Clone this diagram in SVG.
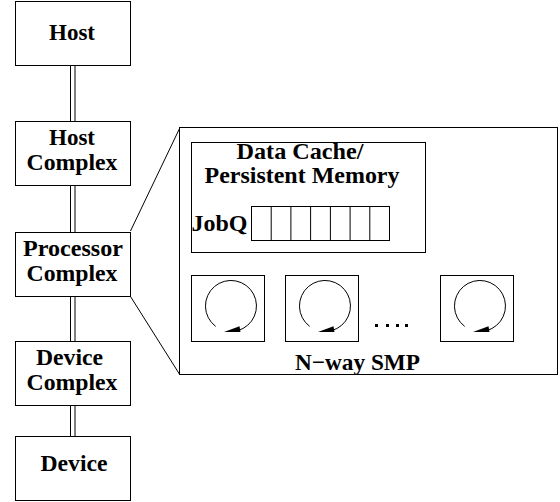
<svg xmlns="http://www.w3.org/2000/svg" width="560" height="502" viewBox="0 0 560 502">
<style>
.box{fill:#fff;stroke:#000;stroke-width:1}
.ln{fill:none;stroke:#000;stroke-width:1}
text{font-family:'Times New Roman','Liberation Serif','DejaVu Serif',serif;font-weight:bold;font-size:23px;fill:#000}
.c{text-anchor:middle}
</style>
<defs>
<g id="cpu">
<rect class="box" x="0.5" y="0.5" width="73" height="66"/>
<path class="ln" d="M24.7 51.4 A25.5 25.5 0 1 1 46.6 55.6"/>
<polygon points="33,57 49.5,57 48.5,51.2" fill="#000"/>
</g>
</defs>
<rect width="560" height="502" fill="#fff"/>
<g id="connectors">
<line class="ln" x1="70.5" y1="65.5" x2="70.5" y2="121.5"/>
<line class="ln" x1="75" y1="65.5" x2="75" y2="121.5"/>
<line class="ln" x1="70.5" y1="185.5" x2="70.5" y2="232.5"/>
<line class="ln" x1="75" y1="185.5" x2="75" y2="232.5"/>
<line class="ln" x1="70.5" y1="296.5" x2="70.5" y2="341.5"/>
<line class="ln" x1="75" y1="296.5" x2="75" y2="341.5"/>
<line class="ln" x1="70.5" y1="405.5" x2="70.5" y2="436.5"/>
<line class="ln" x1="75" y1="405.5" x2="75" y2="436.5"/>
<line class="ln" x1="130.5" y1="231" x2="180" y2="127.5"/>
<line class="ln" x1="130.5" y1="296.5" x2="180" y2="375"/>
</g>
<g id="host">
<rect class="box" x="15.5" y="1.5" width="115" height="64"/>
<text class="c" x="72" y="40">Host</text>
</g>
<g id="host-complex">
<rect class="box" x="15.5" y="121.5" width="115" height="64"/>
<text class="c" x="72" y="145">Host</text>
<text class="c" x="72" y="170" textLength="91" lengthAdjust="spacingAndGlyphs">Complex</text>
</g>
<g id="processor-complex">
<rect class="box" x="15.5" y="232.5" width="115" height="64"/>
<text class="c" x="73" y="256" textLength="100" lengthAdjust="spacingAndGlyphs">Processor</text>
<text class="c" x="72" y="281" textLength="91" lengthAdjust="spacingAndGlyphs">Complex</text>
</g>
<g id="device-complex">
<rect class="box" x="15.5" y="341.5" width="115" height="64"/>
<text class="c" x="69.5" y="365" textLength="67" lengthAdjust="spacingAndGlyphs">Device</text>
<text class="c" x="72" y="390" textLength="91" lengthAdjust="spacingAndGlyphs">Complex</text>
</g>
<g id="device">
<rect class="box" x="15.5" y="436.5" width="115" height="64"/>
<text class="c" x="74" y="471" textLength="67" lengthAdjust="spacingAndGlyphs">Device</text>
</g>
<g id="smp">
<rect class="box" x="179.5" y="127.5" width="378" height="247"/>
<g id="data-cache">
<rect class="box" x="191.5" y="142.5" width="234" height="110"/>
<text class="c" x="300" y="159" textLength="127" lengthAdjust="spacingAndGlyphs">Data Cache/</text>
<text class="c" x="302" y="183" textLength="195" lengthAdjust="spacingAndGlyphs">Persistent Memory</text>
<text x="191.5" y="231" textLength="56" lengthAdjust="spacingAndGlyphs">JobQ</text>
<rect class="box" x="251.5" y="206.5" width="138" height="34"/>
<path class="ln" d="M271.2 206.5V240.5M290.9 206.5V240.5M310.6 206.5V240.5M330.4 206.5V240.5M350.1 206.5V240.5M369.8 206.5V240.5"/>
</g>
<g id="cpu1"><use href="#cpu" x="191" y="275"/></g>
<g id="cpu2"><use href="#cpu" x="285" y="275"/></g>
<g id="cpu3"><use href="#cpu" x="440" y="275"/></g>
<g fill="#000">
<rect x="375" y="324" width="3" height="3"/>
<rect x="386" y="324" width="3" height="3"/>
<rect x="396" y="324" width="3" height="3"/>
<rect x="405" y="324" width="3" height="3"/>
</g>
<text class="c" x="357.5" y="370" textLength="125" lengthAdjust="spacingAndGlyphs">N−way SMP</text>
</g>
</svg>
